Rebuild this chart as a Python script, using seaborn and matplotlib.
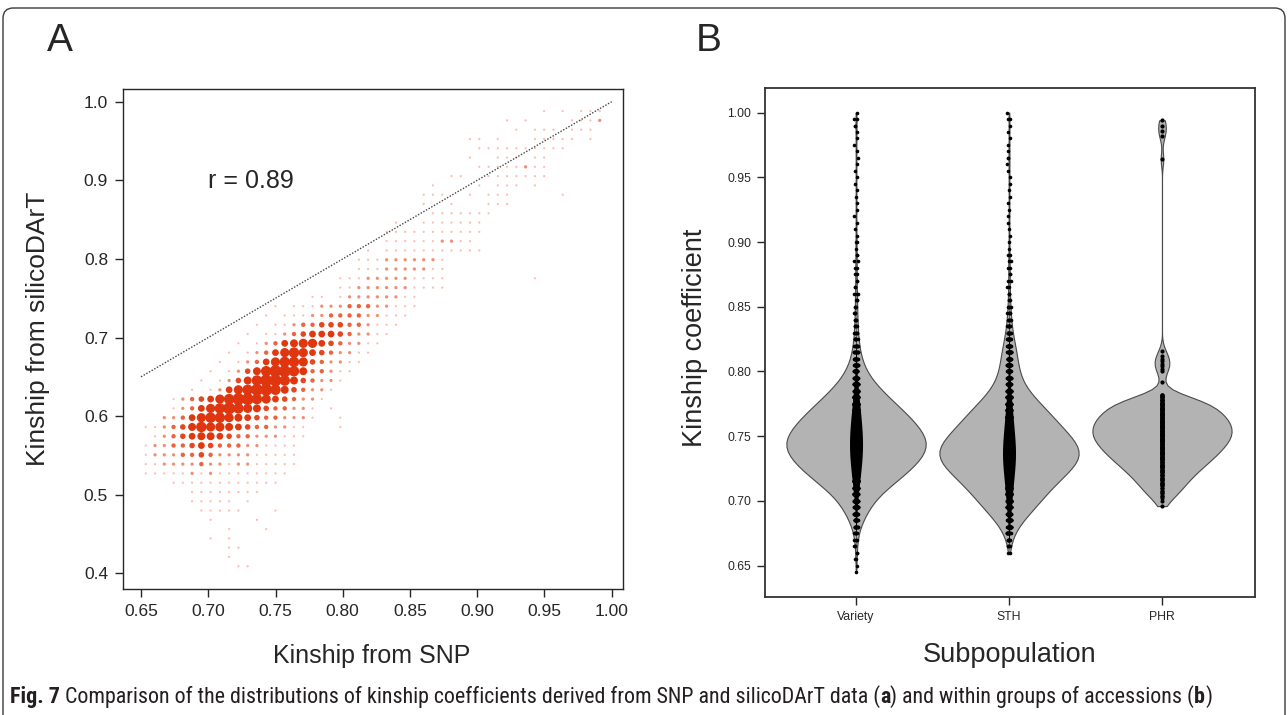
import numpy as np
import pandas as pd
import matplotlib
matplotlib.use("Agg")
import matplotlib.pyplot as plt
import seaborn as sns
from matplotlib.patches import FancyBboxPatch
from matplotlib import font_manager

# ---------------- Panel A data: binned kinship pairs ----------------
SNP_FIRST_BIN = 0.6535      # centre of first SNP-kinship bin
SNP_BIN_WIDTH = 0.00689
DART_FIRST_BIN = 0.4089     # centre of first silicoDArT-kinship bin
DART_BIN_WIDTH = 0.01182
N_BINS = 50
R_VALUE = "r = 0.89"

# one entry per silicoDArT bin (bottom -> top):
# (index of first SNP bin, pair-count class of consecutive SNP bins; 0 = empty, 9 = densest)
pair_density_rows = [
    (10, "11"),
    (9, "1"),
    (9, "11"),
    (7, "101"),
    (9, "10001"),
    (7, "100001"),
    (6, "111110001"),
    (5, "1111101"),
    (5, "11111111"),
    (3, "111111111111"),
    (0, "1111121211111111"),
    (0, "11222232212211111"),
    (0, "12223343222211111"),
    (0, "12233454333221111"),
    (1, "12345665433222111"),
    (0, "1123468776543322110001"),
    (2, "22357887654332221001"),
    (3, "123578987643322101"),
    (3, "12345789987543221"),
    (5, "1012578998643221"),
    (6, "1012468998643221"),
    (7, "1012468998633211"),
    (8, "1012357887432211"),
    (9, "1012357875432211"),
    (10, "1012356775432211"),
    (11, "1011234555432211"),
    (12, "1011233444332111"),
    (13, "1011122333322111"),
    (14, "1011122233322111"),
    (18, "110122222211"),
    (21, "112222221111"),
    (21, "1112222211110000000001"),
    (23, "1112222211"),
    (23, "1112222221"),
    (24, "1011111111111"),
    (26, "1111112211"),
    (26, "11111111111"),
    (27, "1001111111"),
    (31, "1111111"),
    (30, "1001000111"),
    (30, "1110010111000001"),
    (31, "100001011101"),
    (33, "11001111111"),
    (36, "11111211"),
    (35, "100111011"),
    (36, "1111111111"),
    (35, "11010001111101"),
    (40, "101110111"),
    (39, "10100001112"),
    (43, "1010111"),
]

# ---------------- Panel B data: kinship within subpopulations ----------------
groups = ["Variety", "STH", "PHR"]

variety_start, variety_step = 0.645, 0.005
variety_counts = [1, 1, 2, 2, 3, 4, 6, 12, 20, 30, 40, 52, 68, 92, 115, 138, 160, 180,
                  195, 205, 209, 200, 188, 172, 155, 135, 115, 95, 75, 58, 42, 30, 22, 16,
                  12, 9, 7, 6, 5, 4, 4, 3, 3, 3, 2, 2, 2, 2, 2, 2, 1, 2, 1, 1, 1, 1, 1, 1,
                  1, 1, 1, 1, 1, 1, 1, 1, 1, 1, 1, 2, 2, 1]

sth_start, sth_step = 0.660, 0.005
sth_counts = [2, 4, 8, 14, 25, 40, 58, 75, 90, 105, 122, 140, 160, 180, 200, 209, 205, 195,
              175, 160, 140, 125, 110, 90, 72, 55, 42, 34, 30, 26, 24, 22, 18, 14, 10, 8, 6,
              5, 4, 3, 3, 2, 2, 2, 2, 2, 2, 1, 1, 1, 1, 1, 1, 1, 1, 1, 1, 1, 1, 1, 1, 2, 1,
              1, 1, 1, 1, 2, 1]

phr_start, phr_step = 0.696, 0.002
phr_counts = [1, 0, 1, 1, 2, 2, 2, 2, 3, 3, 3, 3, 4, 4, 4, 5, 5, 5, 6, 6, 6, 7, 7, 7, 7, 8,
              8, 8, 8, 8, 8, 8, 8, 8, 7, 7, 7, 7, 6, 6, 5, 5, 4, 3]
phr_high_values = [0.792, 0.800, 0.802, 0.804, 0.806, 0.808, 0.810, 0.812, 0.816,
                   0.964, 0.982, 0.986, 0.990, 0.994]

# ---------------- build tables ----------------
snp_bins = SNP_FIRST_BIN + SNP_BIN_WIDTH * np.arange(N_BINS)
dart_bins = DART_FIRST_BIN + DART_BIN_WIDTH * np.arange(N_BINS)
rec = []
for j, (i0, codes) in enumerate(pair_density_rows):
    for k, ch in enumerate(codes):
        if ch != "0":
            rec.append((snp_bins[i0 + k], dart_bins[j], int(ch)))
dfA = pd.DataFrame(rec, columns=["snp", "dart", "level"]).sort_values("level")


def expand(start, step, counts):
    levels = np.round(start + step * np.arange(len(counts)), 4)
    return np.repeat(levels, counts)


vals_variety = expand(variety_start, variety_step, variety_counts)
vals_sth = expand(sth_start, sth_step, sth_counts)
vals_phr = np.concatenate([expand(phr_start, phr_step, phr_counts), phr_high_values])
dfB = pd.DataFrame({
    "group": ["Variety"] * len(vals_variety) + ["STH"] * len(vals_sth) + ["PHR"] * len(vals_phr),
    "kinship": np.concatenate([vals_variety, vals_sth, vals_phr]),
})

# ---------------- style ----------------
sns.set_style("ticks")
plt.rcParams["font.family"] = ["Liberation Sans", "DejaVu Sans"]
plt.rcParams["axes.linewidth"] = 1.0

W, H = 1288, 715
fig = plt.figure(figsize=(W / 100, H / 100), dpi=100)
fig.patch.set_facecolor("white")


def fx(px):
    return px / W


def fy(py):
    return 1 - py / H


axA = fig.add_axes([fx(123.3), fy(588.7), fx(622.7) - fx(123.3), fy(89.3) - fy(588.7)])
axB = fig.add_axes([fx(765), fy(596.7), fx(1255) - fx(765), fy(88) - fy(596.7)])

# ---------------- Panel A ----------------
level_diam_px = {1: 2.2, 2: 3.3, 3: 4.4, 4: 5.6, 5: 6.8, 6: 8.0, 7: 9.2, 8: 10.5, 9: 12.0}
level_sizes = {k: (d * 0.72) ** 2 for k, d in level_diam_px.items()}
level_colors = {1: "#f8beaf", 2: "#f28f73", 3: "#eb6340", 4: "#e44721", 5: "#e0390f",
                6: "#e0360f", 7: "#e0360f", 8: "#e0360f", 9: "#e0360f"}
sns.scatterplot(data=dfA, x="snp", y="dart", hue="level", size="level",
                palette=level_colors, sizes=level_sizes, size_norm=None, linewidth=0,
                legend=False, ax=axA, zorder=2)
axA.plot([0.65, 1.0], [0.65, 1.0], linestyle=(0, (1, 1.2)), color="#444444", lw=1.0, zorder=3)
axA.set_xlim(0.6368, 1.0082)
axA.set_ylim(0.3804, 1.0158)
axA.set_xticks(np.arange(0.65, 1.001, 0.05))
axA.set_xticklabels([f"{v:.2f}" for v in np.arange(0.65, 1.001, 0.05)])
axA.set_yticks(np.arange(0.4, 1.001, 0.1))
axA.set_yticklabels([f"{v:.1f}" for v in np.arange(0.4, 1.001, 0.1)])
axA.tick_params(direction="out", length=6, width=1, labelsize=12.5, pad=5,
                top=False, right=False)
axA.set_xlabel("")
axA.set_ylabel("")
axA.text(0.700, 0.899, R_VALUE, fontsize=18, ha="left", va="center")

# ---------------- Panel B ----------------
for g, bw in zip(groups, [1.0, 1.0, 0.4]):
    sub = dfB[dfB["group"] == g]
    sns.violinplot(data=sub, x="group", y="kinship", order=groups, cut=0,
                   density_norm="width", width=0.91, inner=None, color="#b3b3b3",
                   saturation=1, linecolor="#4a4a4a", linewidth=0.8, bw_adjust=bw, ax=axB)
for g in ["Variety", "STH"]:
    sub = dfB[dfB["group"] == g]
    sns.violinplot(data=sub, x="group", y="kinship", order=groups, cut=0,
                   density_norm="width", width=0.085, inner=None, color="black",
                   saturation=1, linewidth=0, bw_adjust=1.0, ax=axB)
np.random.seed(3)
sns.stripplot(data=dfB[dfB["group"] != "PHR"], x="group", y="kinship", order=groups,
              color="black", size=2.6, jitter=0.012, linewidth=0, ax=axB)
sns.stripplot(data=dfB[dfB["group"] == "PHR"], x="group", y="kinship", order=groups,
              color="black", size=3.0, jitter=False, linewidth=0, ax=axB)
axB.set_xlim(-0.595, 2.608)
axB.set_ylim(0.626, 1.019)
axB.set_yticks(np.arange(0.65, 1.001, 0.05))
axB.set_yticklabels([f"{v:.2f}" for v in np.arange(0.65, 1.001, 0.05)])
axB.tick_params(direction="out", length=6, width=1, labelsize=8.8, pad=4,
                top=False, right=False)
axB.set_xlabel("")
axB.set_ylabel("")
for sp in axB.spines.values():
    sp.set_linewidth(1.3)
    sp.set_color("#333333")

# ---------------- labels ----------------
fig.text(fx(372), fy(656), "Kinship from SNP", fontsize=18, ha="center", va="center")
fig.text(fx(38), fy(329), "Kinship from silicoDArT", fontsize=19, rotation=90,
         ha="center", va="center")
fig.text(fx(1010), fy(655), "Subpopulation", fontsize=19.5, ha="center", va="center")
fig.text(fx(695), fy(338), "Kinship coefficient", fontsize=19.5, rotation=90,
         ha="center", va="center")
fig.text(fx(47), fy(41), "A", fontsize=28, ha="left", va="center")
fig.text(fx(696), fy(41), "B", fontsize=28, ha="left", va="center")

# ---------------- caption ----------------
available = {f.name for f in font_manager.fontManager.ttflist}
cap_font = "Liberation Sans"
for cand in ["Liberation Sans Narrow", "Roboto Condensed", "Open Sans Condensed"]:
    if cand in available:
        cap_font = cand
        break
pieces = [("Fig. 7", "bold"),
          (" Comparison of the distributions of kinship coefficients derived from SNP and silicoDArT data (", "normal"),
          ("a", "bold"), (") and within groups of accessions (", "normal"), ("b", "bold"), (")", "normal")]
renderer = fig.canvas.get_renderer()


def text_w(s, fs, weight):
    t = fig.text(0, 0, s, fontsize=fs, fontweight=weight, family=cap_font)
    w = t.get_window_extent(renderer).width
    t.remove()
    return w


def piece_w(s, fs, weight):
    return text_w("x" + s + "x", fs, weight) - text_w("xx", fs, weight)


base_fs = 13
total = sum(piece_w(s, base_fs, w) for s, w in pieces)
cap_fs = base_fs * 1203 / total
x = 10.0
for s, w in pieces:
    fig.text(fx(x), fy(697), s, fontsize=cap_fs, fontweight=w, family=cap_font,
             ha="left", va="center", color="#231f20")
    x += piece_w(s, cap_fs, w)

# ---------------- border ----------------
border = FancyBboxPatch((fx(3), -0.1), fx(1285) - fx(3), fy(8) + 0.1,
                        boxstyle="round,pad=0,rounding_size=0.008",
                        mutation_aspect=W / H, transform=fig.transFigure,
                        fill=False, ec="#3a3a3a", lw=1.0, clip_on=False)
fig.patches.append(border)

fig.savefig("out.png", dpi=100)
